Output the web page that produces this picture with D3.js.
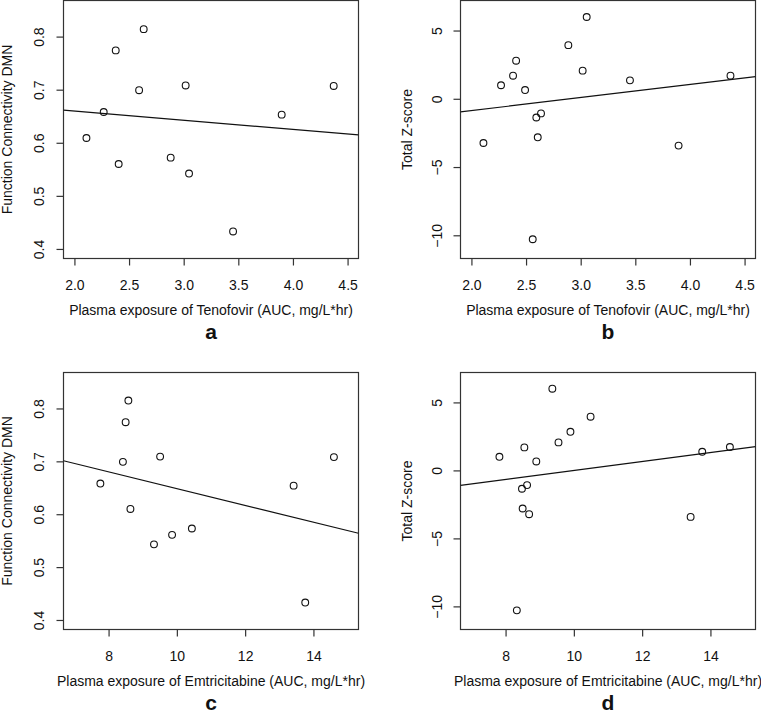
<!DOCTYPE html>
<html>
<head>
<meta charset="utf-8">
<script src="https://cdn.jsdelivr.net/npm/d3@7"></script>
<style>
  html, body { margin: 0; padding: 0; background: #fff; }
  svg { display: block; }
  text { font-family: "Liberation Sans", Arial, Helvetica, sans-serif; fill: #111; }
</style>
</head>
<body>
<svg id="chart" width="761" height="714"></svg>
<script>
// ---------------- data ----------------
const tenofovirA = [2.11, 2.268, 2.378, 2.405, 2.592, 2.634, 2.881, 3.018, 3.049, 3.452, 3.897, 4.373];
const dmnA       = [0.609, 0.658, 0.774, 0.560, 0.699, 0.814, 0.572, 0.708, 0.542, 0.433, 0.653, 0.707];

const tenofovirB = [2.11, 2.271, 2.381, 2.409, 2.491, 2.561, 2.594, 2.607, 2.637, 2.887, 3.018, 3.055, 3.451, 3.896, 4.371];
const zscoreB    = [-3.24, 0.99, 1.69, 2.79, 0.64, -10.29, -1.37, -2.82, -1.07, 3.93, 2.06, 5.99, 1.35, -3.43, 1.69];

const emtricitabineC = [7.76, 8.42, 8.50, 8.58, 8.64, 9.33, 9.51, 9.86, 10.44, 13.42, 13.76, 14.60];
const dmnC           = [0.658, 0.699, 0.774, 0.815, 0.610, 0.543, 0.709, 0.561, 0.573, 0.654, 0.433, 0.708];

const emtricitabineD = [7.82, 8.33, 8.48, 8.50, 8.55, 8.63, 8.69, 8.90, 9.37, 9.55, 9.90, 10.49, 13.42, 13.76, 14.57];
const zscoreD        = [1.00, -10.29, -1.35, -2.80, 1.69, -1.08, -3.22, 0.66, 6.01, 2.06, 2.84, 3.95, -3.42, 1.37, 1.72];

// fitted regression lines (intercept, slope)
const fitIntercept = [0.6943, -2.776, 0.807, -3.31];
const fitSlope     = [-0.0173, 0.9556, -0.01586, 0.3298];

// axis limits and ticks
const xLimTenofovir = [2, 4.5];
const xLimEmtricitabine = [7, 15];
const yLimDMN = [0.4, 0.85];
const yLimZ = [-11, 6.5];
const xTicksTenofovir = [2.0, 2.5, 3.0, 3.5, 4.0, 4.5];
const xTicksEmtricitabine = [8, 10, 12, 14];
const yTicksDMN = [0.4, 0.5, 0.6, 0.7, 0.8];
const yTicksZ = [-10, -5, 0, 5];

const xTitleTenofovir = "Plasma exposure of Tenofovir (AUC, mg/L*hr)";
const xTitleEmtricitabine = "Plasma exposure of Emtricitabine (AUC, mg/L*hr)";
const yTitleDMN = "Function Connectivity DMN";
const yTitleZ = "Total Z-score";
const panelLabels = ["a", "b", "c", "d"];

// ---------------- layout ----------------
const ext = lim => { const d = (lim[1] - lim[0]) * 0.04; return [lim[0] - d, lim[1] + d]; };

const panels = [
  { x: tenofovirA, y: dmnA, xlim: xLimTenofovir, ylim: yLimDMN, xt: xTicksTenofovir, yt: yTicksDMN,
    xfmt: d3.format(".1f"), yfmt: d3.format(".1f"), xtitle: xTitleTenofovir, ytitle: yTitleDMN,
    box: { l: 63.5, r: 358.5, t: 0.5, b: 258.5 }, tickOff: 20, titleOff: 51.5 },
  { x: tenofovirB, y: zscoreB, xlim: xLimTenofovir, ylim: yLimZ, xt: xTicksTenofovir, yt: yTicksZ,
    xfmt: d3.format(".1f"), yfmt: d3.format("d"), xtitle: xTitleTenofovir, ytitle: yTitleZ,
    box: { l: 460.5, r: 755.5, t: 0.5, b: 258.5 }, tickOff: 18.5, titleOff: 48.5 },
  { x: emtricitabineC, y: dmnC, xlim: xLimEmtricitabine, ylim: yLimDMN, xt: xTicksEmtricitabine, yt: yTicksDMN,
    xfmt: d3.format("d"), yfmt: d3.format(".1f"), xtitle: xTitleEmtricitabine, ytitle: yTitleDMN,
    box: { l: 63.5, r: 358.5, t: 372.5, b: 629.5 }, tickOff: 20, titleOff: 51.5 },
  { x: emtricitabineD, y: zscoreD, xlim: xLimEmtricitabine, ylim: yLimZ, xt: xTicksEmtricitabine, yt: yTicksZ,
    xfmt: d3.format("d"), yfmt: d3.format("d"), xtitle: xTitleEmtricitabine, ytitle: yTitleZ,
    box: { l: 460.5, r: 755.5, t: 372.5, b: 629.5 }, tickOff: 18.5, titleOff: 48.5 }
];

const svg = d3.select("#chart");
const INK = "#1a1a1a";

panels.forEach((p, i) => {
  const B = p.box;
  const xd = ext(p.xlim), yd = ext(p.ylim);
  const xs = d3.scaleLinear().domain(xd).range([B.l, B.r]);
  const ys = d3.scaleLinear().domain(yd).range([B.b, B.t]);
  const g = svg.append("g");

  const clipId = "clip" + i;
  svg.append("clipPath").attr("id", clipId).append("rect")
    .attr("x", B.l).attr("y", B.t).attr("width", B.r - B.l).attr("height", B.b - B.t);

  // box
  g.append("rect").attr("x", B.l).attr("y", B.t)
    .attr("width", B.r - B.l).attr("height", B.b - B.t)
    .attr("fill", "none").attr("stroke", "#333").attr("stroke-width", 1.2);

  // x axis (bottom)
  const xAxis = d3.axisBottom(xs).tickValues(p.xt).tickFormat(p.xfmt).tickSize(7).tickPadding(0);
  const gx = g.append("g").attr("transform", `translate(0,${B.b})`).call(xAxis);
  gx.select(".domain").remove();
  gx.selectAll(".tick line").attr("stroke", "#333").attr("stroke-width", 1.2);
  gx.selectAll(".tick text").attr("y", 31).attr("dy", null)
    .attr("font-size", 14).attr("fill", INK)
    .style("font-family", '"Liberation Sans", Arial, sans-serif');

  // y axis (left), labels parallel to axis
  const yAxis = d3.axisLeft(ys).tickValues(p.yt).tickFormat(p.yfmt).tickSize(7).tickPadding(0);
  const gy = g.append("g").attr("transform", `translate(${B.l},0)`).call(yAxis);
  gy.select(".domain").remove();
  gy.selectAll(".tick line").attr("stroke", "#333").attr("stroke-width", 1.2);
  gy.selectAll(".tick text")
    .attr("x", null).attr("dy", null)
    .attr("text-anchor", "middle")
    .attr("transform", `translate(${-p.tickOff},0) rotate(-90)`)
    .attr("font-size", 14).attr("fill", INK)
    .style("font-family", '"Liberation Sans", Arial, sans-serif');

  // axis titles
  g.append("text").attr("x", (B.l + B.r) / 2).attr("y", B.b + 56.5)
    .attr("text-anchor", "middle").attr("font-size", 14).text(p.xtitle);
  g.append("text")
    .attr("transform", `translate(${B.l - p.titleOff},${(B.t + B.b) / 2}) rotate(-90)`)
    .attr("text-anchor", "middle").attr("font-size", 14).text(p.ytitle);

  // panel label
  g.append("text").attr("x", (B.l + B.r) / 2).attr("y", B.b + 80)
    .attr("text-anchor", "middle").attr("font-size", 21).attr("font-weight", "bold")
    .attr("fill", "#000").text(panelLabels[i]);

  // regression line
  const fx = x => fitIntercept[i] + fitSlope[i] * x;
  g.append("line").attr("clip-path", `url(#${clipId})`)
    .attr("x1", xs(xd[0])).attr("y1", ys(fx(xd[0])))
    .attr("x2", xs(xd[1])).attr("y2", ys(fx(xd[1])))
    .attr("stroke", "#111").attr("stroke-width", 1.2);

  // points
  g.selectAll("circle.pt").data(d3.range(p.x.length)).enter().append("circle")
    .attr("class", "pt")
    .attr("cx", k => xs(p.x[k])).attr("cy", k => ys(p.y[k]))
    .attr("r", 3.4).attr("fill", "none").attr("stroke", "#111").attr("stroke-width", 1.1);
});
</script>
</body>
</html>
